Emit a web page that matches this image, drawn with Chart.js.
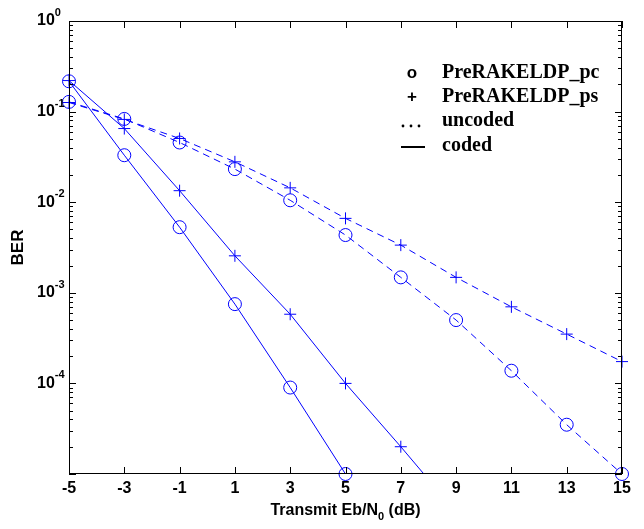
<!DOCTYPE html>
<html>
<head>
<meta charset="utf-8">
<title>BER vs Eb/N0</title>
<script src="https://cdn.jsdelivr.net/npm/chart.js@4.4.0/dist/chart.umd.min.js"></script>
<style>
  html, body { margin: 0; padding: 0; background: #fff; }
  #wrap { width: 644px; height: 529px; position: relative; }
</style>
</head>
<body>
<div id="wrap"><canvas id="berChart"></canvas></div>
<script>
// Eb/N0 points (dB)
const snrCoded = [-5, -3, -1, 1, 3, 5, 7, 9];
const snrUncoded = [-5, -3, -1, 1, 3, 5, 7, 9, 11, 13, 15];

// BER values
const berPcCoded = [0.216, 0.033, 0.0053, 7.5e-4, 9.0e-5, 1.0e-5];
const berPsCoded = [0.22, 0.065, 0.0134, 0.00256, 5.8e-4, 1.0e-4, 2.0e-5, 3.8e-6];
const berPcUncoded = [0.128, 0.083, 0.0456, 0.0232, 0.0105, 0.00434, 0.00148, 5.0e-4, 1.38e-4, 3.5e-5, 1.0e-5];
const berPsUncoded = [0.126, 0.082, 0.0505, 0.0279, 0.0144, 0.00663, 0.00336, 0.00148, 7.0e-4, 3.5e-4, 1.74e-4];

// axis ticks
const xTickValues = [-5, -3, -1, 1, 3, 5, 7, 9, 11, 13, 15];
const yDecades = [0, -1, -2, -3, -4];

const BLUE = '#0000ff';
const SANS = '"Liberation Sans", Arial, sans-serif';
const SERIF = '"Liberation Serif", "Times New Roman", serif';

function toPoints(xs, ys) {
    return ys.map((y, i) => ({ x: xs[i], y: y }));
}

function series(label, xs, ys, marker, dashed, clipBottom) {
    return {
        label: label,
        data: toPoints(xs, ys),
        borderColor: BLUE,
        borderWidth: 1,
        borderDash: dashed ? [7, 5] : [],
        pointStyle: marker,
        pointRadius: marker === 'circle' ? 6.5 : 6,
        pointBorderWidth: 1,
        pointBorderColor: BLUE,
        pointBackgroundColor: 'rgba(0,0,0,0)',
        pointHoverRadius: 6,
        fill: false,
        tension: 0,
        clip: { left: 10, top: 10, right: 10, bottom: clipBottom }
    };
}

// draws the frame, inward ticks, tick labels, axis titles and legend
const matlabAxes = {
    id: 'matlabAxes',
    afterDraw(chart) {
        const ctx = chart.ctx;
        const a = chart.chartArea;
        const xs = chart.scales.x;
        const ys = chart.scales.y;

        ctx.save();
        ctx.strokeStyle = '#000';
        ctx.fillStyle = '#000';
        ctx.lineWidth = 1;

        // frame
        ctx.strokeRect(a.left + 0.5, a.top + 0.5, a.right - a.left - 1, a.bottom - a.top - 1);

        // x ticks (bottom and top, pointing inward)
        ctx.beginPath();
        xTickValues.forEach(v => {
            const px = Math.round(xs.getPixelForValue(v)) + 0.5;
            ctx.moveTo(px, a.bottom);
            ctx.lineTo(px, a.bottom - 7);
            ctx.moveTo(px, a.top);
            ctx.lineTo(px, a.top + 7);
        });

        // y ticks, major and minor, on both sides
        for (let k = -5; k <= 0; k++) {
            for (let m = 1; m <= 9; m++) {
                const v = m * Math.pow(10, k);
                if (v > 1.0000001) break;
                const py = Math.round(ys.getPixelForValue(v)) + 0.5;
                const len = m === 1 ? 7 : 4;
                ctx.moveTo(a.left, py);
                ctx.lineTo(a.left + len, py);
                ctx.moveTo(a.right, py);
                ctx.lineTo(a.right - len, py);
            }
        }
        ctx.stroke();

        // x tick labels
        ctx.font = 'bold 16px ' + SANS;
        ctx.textAlign = 'center';
        ctx.textBaseline = 'middle';
        xTickValues.forEach(v => {
            ctx.fillText(String(v), xs.getPixelForValue(v), a.bottom + 15);
        });

        // y tick labels 10^k
        yDecades.forEach(k => {
            const py = ys.getPixelForValue(Math.pow(10, k));
            ctx.font = 'bold 16px ' + SANS;
            ctx.textAlign = 'left';
            ctx.textBaseline = 'middle';
            ctx.fillText('10', 37, py);
            const w = ctx.measureText('10').width;
            ctx.font = 'bold 11px ' + SANS;
            ctx.fillText(String(k), 37 + w, py - 8);
        });

        // x axis title with subscript
        const cx = (a.left + a.right) / 2;
        const ty = a.bottom + 37;
        ctx.textBaseline = 'middle';
        ctx.font = 'bold 16px ' + SANS;
        const partA = 'Transmit Eb/N';
        const partC = ' (dB)';
        const wA = ctx.measureText(partA).width;
        const wC = ctx.measureText(partC).width;
        ctx.font = 'bold 11px ' + SANS;
        const wB = ctx.measureText('0').width;
        let tx = cx - (wA + wB + wC) / 2;
        ctx.textAlign = 'left';
        ctx.font = 'bold 16px ' + SANS;
        ctx.fillText(partA, tx, ty);
        ctx.font = 'bold 11px ' + SANS;
        ctx.fillText('0', tx + wA, ty + 6);
        ctx.font = 'bold 16px ' + SANS;
        ctx.fillText(partC, tx + wA + wB, ty);

        // y axis title
        ctx.save();
        ctx.translate(18, (a.top + a.bottom) / 2);
        ctx.rotate(-Math.PI / 2);
        ctx.textAlign = 'center';
        ctx.font = 'bold 17px ' + SANS;
        ctx.fillText('BER', 0, 0);
        ctx.restore();

        // legend (black, Times bold)
        const lx = 442;
        const rows = [
            { y: 73, text: 'PreRAKELDP_pc', sym: 'o' },
            { y: 97, text: 'PreRAKELDP_ps', sym: '+' },
            { y: 121, text: 'uncoded', sym: 'dots' },
            { y: 146, text: 'coded', sym: 'line' }
        ];
        rows.forEach(r => {
            ctx.textAlign = 'left';
            ctx.textBaseline = 'middle';
            ctx.font = 'bold 20px ' + SERIF;
            ctx.fillText(r.text, lx, r.y);
            if (r.sym === 'o' || r.sym === '+') {
                ctx.textAlign = 'center';
                ctx.font = 'bold 17px ' + SANS;
                ctx.fillText(r.sym, 412, r.y);
            } else if (r.sym === 'dots') {
                [403, 411, 419].forEach(dx => {
                    ctx.beginPath();
                    ctx.arc(dx, r.y + 5, 1.4, 0, Math.PI * 2);
                    ctx.fill();
                });
            } else {
                ctx.beginPath();
                ctx.lineWidth = 2;
                ctx.moveTo(401, r.y + 1);
                ctx.lineTo(425, r.y + 1);
                ctx.stroke();
                ctx.lineWidth = 1;
            }
        });

        ctx.restore();
    }
};

const ctx = document.getElementById('berChart');
new Chart(ctx, {
    type: 'line',
    data: {
        datasets: [
            series('PreRAKELDP_pc uncoded', snrUncoded, berPcUncoded, 'circle', true, 10),
            series('PreRAKELDP_ps uncoded', snrUncoded, berPsUncoded, 'cross', true, 10),
            series('PreRAKELDP_pc coded', snrCoded, berPcCoded, 'circle', false, 10),
            series('PreRAKELDP_ps coded', snrCoded, berPsCoded, 'cross', false, 0)
        ]
    },
    options: {
        responsive: true,
        maintainAspectRatio: false,
        animation: false,
        layout: { padding: { left: 69, right: 22, top: 21, bottom: 55 } },
        plugins: {
            legend: { display: false },
            tooltip: { enabled: false }
        },
        scales: {
            x: {
                type: 'linear',
                min: -5,
                max: 15,
                grid: { display: false, drawTicks: false },
                border: { display: false },
                ticks: { display: false }
            },
            y: {
                type: 'logarithmic',
                min: 1e-5,
                max: 1,
                grid: { display: false, drawTicks: false },
                border: { display: false },
                ticks: { display: false }
            }
        }
    },
    plugins: [matlabAxes]
});
</script>
</body>
</html>
